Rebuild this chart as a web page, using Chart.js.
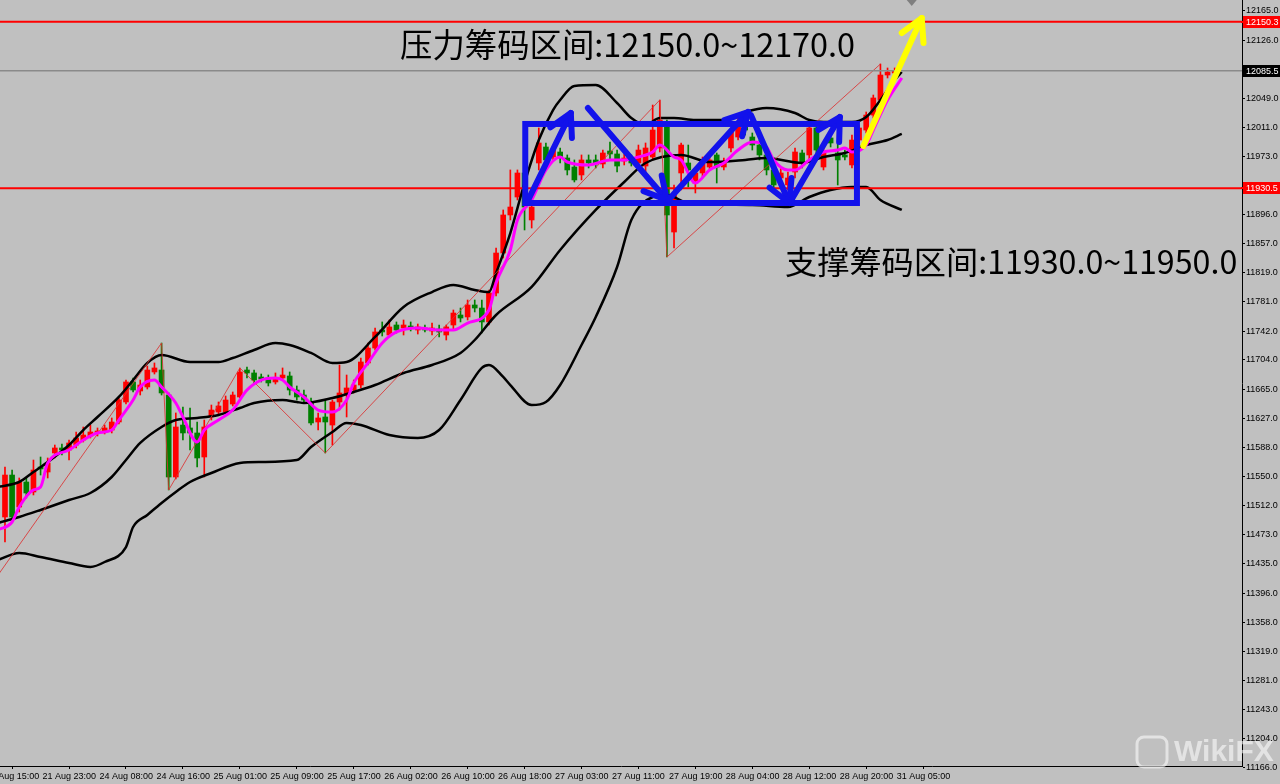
<!DOCTYPE html>
<html><head><meta charset="utf-8">
<script src="https://cdn.jsdelivr.net/npm/chart.js@4.4.1/dist/chart.umd.min.js"></script>
<style>html,body{margin:0;padding:0;background:#c0c0c0;overflow:hidden}canvas{display:block}</style>
</head><body>
<canvas id="c" width="1280" height="784"></canvas>
<script>
// ---------- DATA (H1 candles, bar index 0 = 21 Aug 18:00) ----------
const openP = [
11496.6,11552.0,11509.8,11542.8,11529.6,11562.6,11556.0,11581.1,11587.7,11585.0,
11591.6,11598.2,11603.5,11607.5,11608.8,11611.4,11622.0,11648.4,11674.8,11662.9,
11668.2,11688.0,11690.6,11657.6,11549.4,11618.0,11614.1,11607.5,11575.8,11628.6,
11635.2,11635.2,11645.7,11655.0,11690.6,11686.7,11681.4,11680.1,11674.8,11680.1,
11682.7,11664.2,11657.6,11648.4,11622.0,11628.6,11618.0,11648.4,11657.6,11664.2,
11670.8,11699.9,11719.6,11743.4,11736.8,11750.0,11746.0,11748.7,11743.4,11746.0,
11742.1,11744.7,11736.8,11750.0,11763.2,11760.6,11776.4,11772.4,11754.0,11792.2,
11845.0,11895.2,11918.9,11950.6,11888.6,11963.8,11984.9,11971.7,11978.3,11970.4,
11958.5,11948.0,11967.8,11967.8,11962.5,11979.6,11975.7,11966.4,11967.8,11963.8,
11959.8,11971.7,11983.6,12011.3,11872.7,11950.6,11963.8,11937.4,11950.6,11958.5,
11974.4,11958.5,11983.6,11998.1,12011.3,11998.1,11987.5,11974.4,11954.6,11944.0,
11934.8,11951.9,11977.0,11974.4,12010.0,11958.5,11996.8,11977.0,11974.4,11961.2,
11994.1,12007.3,12027.1,12046.9,12079.9,12082.6];
const highP = [
11562.6,11558.6,11548.1,11548.1,11571.8,11575.8,11574.5,11591.6,11593.0,11598.2,
11608.8,11615.4,11618.0,11614.1,11618.0,11627.3,11653.7,11677.4,11680.1,11677.4,
11695.9,11699.9,11726.2,11660.3,11633.9,11641.8,11640.5,11622.0,11624.6,11644.4,
11648.4,11656.3,11661.6,11693.3,11694.6,11690.6,11685.3,11684.0,11686.7,11693.3,
11688.0,11669.5,11664.2,11653.7,11633.9,11651.0,11651.0,11697.2,11684.0,11677.4,
11706.4,11726.2,11746.0,11754.0,11756.6,11754.0,11756.6,11754.0,11751.3,11750.0,
11752.6,11750.0,11750.0,11769.8,11772.4,11783.0,11783.0,11783.0,11796.2,11851.6,
11901.8,11954.6,11954.6,11971.7,11915.0,12010.0,11990.2,11986.2,11983.6,11974.4,
11967.8,11974.4,11974.4,11974.4,11980.9,11991.5,11980.9,11975.7,11974.4,11987.5,
11990.2,12040.3,12046.9,12020.5,11934.8,11990.2,11987.5,11954.6,11971.7,11974.4,
11977.0,11970.4,12010.0,12023.2,12017.9,12003.4,11994.1,11980.9,11961.2,11957.2,
11951.9,11983.6,11980.9,12013.9,12013.9,11983.6,12003.4,11990.2,11980.9,12000.7,
12013.9,12031.1,12053.5,12094.4,12089.2,12089.2];
const lowP = [
11463.6,11492.7,11503.2,11521.7,11525.7,11552.0,11548.1,11574.5,11578.4,11571.8,
11587.7,11595.6,11600.9,11603.5,11606.2,11607.5,11619.4,11645.7,11661.6,11657.6,
11665.5,11685.3,11657.6,11532.3,11546.8,11598.2,11585.0,11562.6,11549.4,11624.6,
11631.2,11632.5,11643.1,11653.7,11680.1,11673.5,11674.8,11669.5,11672.1,11677.4,
11657.6,11651.0,11647.1,11618.0,11611.4,11581.1,11591.6,11637.8,11628.6,11660.3,
11666.9,11697.2,11717.0,11735.5,11734.2,11739.4,11736.8,11742.1,11738.1,11740.8,
11736.8,11734.2,11730.2,11743.4,11754.0,11756.6,11767.2,11739.4,11750.0,11788.3,
11838.4,11888.6,11915.0,11875.4,11878.0,11954.6,11961.2,11967.8,11963.8,11948.0,
11938.7,11941.4,11957.2,11957.2,11957.2,11967.8,11951.9,11961.2,11959.8,11958.5,
11944.0,11967.8,11978.3,11839.7,11851.6,11928.2,11932.1,11924.2,11944.0,11954.6,
11937.4,11954.6,11978.3,11994.1,12000.7,11980.9,11967.8,11948.0,11928.2,11937.4,
11928.2,11944.0,11957.2,11967.8,11974.4,11954.6,11984.9,11934.8,11967.8,11957.2,
11987.5,12003.4,12023.2,12044.3,12076.0,12078.6];
const closeP = [
11552.0,11496.6,11542.8,11528.3,11558.6,11560.0,11567.9,11587.7,11585.0,11594.3,
11600.9,11604.8,11608.8,11610.1,11614.1,11622.0,11651.0,11674.8,11664.2,11670.8,
11690.6,11693.3,11660.3,11549.4,11615.4,11607.5,11607.5,11574.5,11615.4,11637.8,
11643.1,11651.0,11657.6,11688.0,11686.7,11677.4,11678.7,11673.5,11680.1,11684.0,
11664.2,11655.0,11651.0,11620.7,11627.3,11622.0,11648.4,11660.3,11666.9,11670.8,
11701.2,11719.6,11740.8,11740.8,11747.4,11743.4,11750.0,11746.0,11747.4,11743.4,
11746.0,11740.8,11747.4,11765.8,11759.2,11776.4,11772.4,11754.0,11792.2,11845.0,
11895.2,11905.7,11950.6,11905.7,11905.7,11990.2,11967.8,11980.9,11970.4,11954.6,
11941.4,11967.8,11963.8,11962.5,11977.0,11975.7,11959.8,11970.4,11963.8,11980.9,
11983.6,12007.3,12020.5,11895.2,11921.6,11987.5,11954.6,11950.6,11967.8,11967.8,
11958.5,11963.8,12004.7,12016.6,12007.3,11987.5,11974.4,11954.6,11934.8,11950.6,
11944.0,11978.3,11963.8,12010.0,11980.9,11978.3,11990.2,11967.8,11971.7,11994.1,
12010.0,12027.1,12049.6,12079.9,12083.9,12085.5];

const upperIdx = [-1,2,4,6,9,11,13,16,18,20,22,26,30,32,35,38,40,43,46,48,52,56,60,63,66,68,69,71,73,75,77,78,80,83,86,88,90,92,94,97,101,104,107,111,113,115,119,121,123,125,126];
const upperVal = [11536.2,11542.8,11556.0,11569.2,11591.6,11611.4,11628.6,11655.0,11677.4,11699.9,11710.4,11701.2,11701.2,11706.4,11717.0,11726.2,11723.6,11713.1,11699.9,11701.2,11734.2,11773.8,11793.5,11802.8,11796.2,11793.5,11818.6,11871.4,11937.4,11994.1,12033.7,12046.9,12065.4,12066.7,12043.0,12023.2,12013.9,12023.2,12023.2,12020.5,12020.5,12031.1,12036.4,12029.8,12020.5,12017.9,12017.9,12024.5,12046.9,12073.3,12083.9];
const midIdx = [-1,2,5,9,12,15,17,19,22,24,27,30,33,35,39,41,42,46,49,52,56,60,64,66,69,74,78,83,87,90,95,99,104,107,112,115,118,121,124,126];
const midVal = [11488.7,11496.6,11505.9,11519.0,11528.3,11549.4,11571.8,11594.3,11615.4,11624.6,11627.3,11631.2,11640.5,11647.1,11651.0,11648.4,11647.1,11653.7,11661.6,11670.8,11686.7,11697.2,11713.1,11730.2,11763.2,11800.2,11849.0,11901.8,11938.7,11963.8,11974.4,11965.1,11967.8,11970.4,11963.8,11971.7,11977.0,11987.5,11994.1,12002.1];
const lowerIdx = [-1,2,5,9,12,14,17,18,20,22,24,26,29,33,36,41,43,46,48,50,54,58,61,64,67,68,70,71,74,76,78,81,83,86,88,91,93,96,105,110,113,116,119,121,123,126];
const lowerVal = [11439.9,11449.1,11443.8,11435.9,11430.6,11437.2,11457.0,11483.4,11499.3,11515.1,11529.6,11542.8,11554.7,11567.9,11569.2,11571.8,11589.0,11608.8,11620.7,11618.0,11604.8,11600.9,11611.4,11651.0,11693.3,11697.2,11681.4,11670.8,11644.4,11648.4,11670.8,11723.6,11760.6,11826.5,11888.6,11918.9,11921.6,11911.0,11908.4,11905.7,11918.9,11928.2,11932.1,11932.1,11915.0,11901.8];
// fast moving average (magenta)
const maIdx = [-1,1,2,4,5,6,9,11,13,15,16,18,19,21,22,24,25,27,28,30,32,34,36,38,39,40,42,44,46,48,49,51,53,55,58,61,63,65,68,69,71,72,74,76,78,79,82,85,87,89,91,92,94,95,97,99,101,103,105,107,108,110,111,113,115,117,118,119,121,122,124,126];
const maVal = [11479.5,11490.0,11509.8,11532.3,11536.2,11567.9,11585.0,11598.2,11607.5,11611.4,11624.6,11651.0,11668.2,11677.4,11668.2,11647.1,11628.6,11595.6,11611.4,11624.6,11637.8,11664.2,11677.4,11680.1,11677.4,11668.2,11655.0,11637.8,11635.2,11651.0,11673.5,11699.9,11726.2,11740.8,11746.0,11743.4,11743.4,11752.6,11769.8,11805.4,11849.0,11888.6,11915.0,11954.6,11971.7,11965.1,11961.2,11967.8,11967.8,11971.7,11978.3,11987.5,11971.7,11967.8,11937.4,11954.6,11963.8,11980.9,11991.5,11984.9,11967.8,11954.6,11954.6,11967.8,11978.3,11980.9,11983.6,11978.3,11987.5,12007.3,12046.9,12076.0];
// ZigZag
const zigIdx = [-3,22,23,33,45,92,93,123];
const zigVal = [11393.0,11726.2,11532.3,11693.3,11581.1,12046.9,11839.7,12094.4];

// axis labels
const xTickIdx = [-3,5,13,21,29,37,45,53,61,69,77,85,93,101,109,117,125];
const xTickLabels = ['21 Aug 15:00','21 Aug 23:00','24 Aug 08:00','24 Aug 16:00','25 Aug 01:00','25 Aug 09:00','25 Aug 17:00','26 Aug 02:00','26 Aug 10:00','26 Aug 18:00','27 Aug 03:00','27 Aug 11:00','27 Aug 19:00','28 Aug 04:00','28 Aug 12:00','28 Aug 20:00','31 Aug 05:00'];
const yTickVals = [12165,12126,12049,12011,11973,11896,11857,11819,11781,11742,11704,11665,11627,11588,11550,11512,11473,11435,11396,11358,11319,11281,11243,11204,11166];

// price levels
const resistLevel = 12150.3;
const supportLevel = 11930.5;
const lastPrice = 12085.5;

// annotations (bar index / price)
const boxLeftIdx = 73.1, boxRightIdx = 119.7, boxTopP = 12015.3, boxBotP = 11911.0;
const blueArrowFromIdx = [73.3, 81.9, 93.2, 104.8, 110.4];
const blueArrowFromP   = [11911.0, 12036.4, 11915.0, 12027.1, 11913.6];
const blueArrowToIdx   = [79.5, 93.0, 104.4, 110.2, 117.3];
const blueArrowToP     = [12029.8, 11915.0, 12031.1, 11911.0, 12024.5];
const yellowArrowIdx = [120.6, 128.8];
const yellowArrowP = [11986.2, 12155.1];
const noteTexts = ['压力筹码区间:12150.0~12170.0', '支撑筹码区间:11930.0~11950.0'];
const noteIdx = [55.5, 109.6];
const noteP = [12119.5, 11833.1];
const noteWidthPx = [455, 453];

// ---------- CHART ----------
const RED = '#ff0000', GREEN = '#008000';
const idx = openP.map((_, i) => i);
const colorOf = c => (closeP[c.dataIndex] >= openP[c.dataIndex] ? RED : GREEN);
const pts = (xs, ys) => xs.map((x, k) => ({x: x, y: ys[k]}));
const FONT = 'Liberation Sans';

function arrow(ctx, x1, y1, x2, y2, color, w, head) {
  ctx.save();
  ctx.strokeStyle = color; ctx.lineWidth = w; ctx.lineCap = 'round'; ctx.lineJoin = 'round';
  ctx.beginPath(); ctx.moveTo(x1, y1); ctx.lineTo(x2, y2); ctx.stroke();
  const a = Math.atan2(y2 - y1, x2 - x1), s = 0.5;
  ctx.beginPath();
  ctx.moveTo(x2 - head * Math.cos(a - s), y2 - head * Math.sin(a - s));
  ctx.lineTo(x2, y2);
  ctx.lineTo(x2 - head * Math.cos(a + s), y2 - head * Math.sin(a + s));
  ctx.stroke();
  ctx.restore();
}

const overlay = {
  id: 'overlay',
  afterDatasetsDraw(chart) {
    const {ctx, chartArea: a, scales: {x, y}} = chart;
    ctx.save();
    ctx.beginPath(); ctx.rect(a.left, a.top, a.right - a.left, a.bottom - a.top); ctx.clip();
    // current price line
    let py = y.getPixelForValue(lastPrice);
    ctx.strokeStyle = '#8a8a8a'; ctx.lineWidth = 1.5;
    ctx.beginPath(); ctx.moveTo(a.left, py); ctx.lineTo(a.right, py); ctx.stroke();
    // red level lines
    ctx.strokeStyle = '#ff0000'; ctx.lineWidth = 2;
    [resistLevel, supportLevel].forEach(v => {
      const yy = y.getPixelForValue(v);
      ctx.beginPath(); ctx.moveTo(a.left, yy); ctx.lineTo(a.right, yy); ctx.stroke();
    });
    // blue box
    const bx1 = x.getPixelForValue(boxLeftIdx), bx2 = x.getPixelForValue(boxRightIdx);
    const by1 = y.getPixelForValue(boxTopP), by2 = y.getPixelForValue(boxBotP);
    ctx.strokeStyle = 'rgb(18,18,235)'; ctx.lineWidth = 6;
    ctx.strokeRect(bx1, by1, bx2 - bx1, by2 - by1);
    // blue arrows
    for (let k = 0; k < blueArrowFromIdx.length; k++) {
      arrow(ctx, x.getPixelForValue(blueArrowFromIdx[k]), y.getPixelForValue(blueArrowFromP[k]),
        x.getPixelForValue(blueArrowToIdx[k]), y.getPixelForValue(blueArrowToP[k]), 'rgb(18,18,235)', 6, 25);
    }
    // yellow arrow
    arrow(ctx, x.getPixelForValue(yellowArrowIdx[0]), y.getPixelForValue(yellowArrowP[0]),
      x.getPixelForValue(yellowArrowIdx[1]), y.getPixelForValue(yellowArrowP[1]), '#ffff00', 6, 25);
    // texts (font size fitted to the width they take in the reference)
    ctx.fillStyle = '#000'; ctx.textBaseline = 'middle'; ctx.textAlign = 'left';
    noteTexts.forEach((t, k) => {
      ctx.font = '100px "Noto Sans CJK SC"';
      const w100 = ctx.measureText(t).width;
      const size = Math.min(40, 100 * noteWidthPx[k] / w100);
      ctx.font = size.toFixed(1) + 'px "Noto Sans CJK SC"';
      ctx.fillText(t, x.getPixelForValue(noteIdx[k]), y.getPixelForValue(noteP[k]));
    });
    // chart-shift marker
    const sx = x.getPixelForValue(127.4);
    ctx.fillStyle = '#7f7f7f';
    ctx.beginPath(); ctx.moveTo(sx - 5, a.top); ctx.lineTo(sx + 5, a.top); ctx.lineTo(sx, a.top + 6); ctx.closePath(); ctx.fill();
    ctx.restore();
  },
  afterDraw(chart) {
    const {ctx, chartArea: a, scales: {y}} = chart;
    ctx.save();
    ctx.font = '9px "' + FONT + '"'; ctx.textBaseline = 'middle'; ctx.textAlign = 'left';
    [[resistLevel, '#ff0000'], [lastPrice, '#000000'], [supportLevel, '#ff0000']].forEach(([v, col]) => {
      const yy = Math.round(y.getPixelForValue(v));
      ctx.fillStyle = col;
      ctx.fillRect(a.right + 1, yy - 6, 40, 12);
      if (col !== '#000000') { ctx.fillRect(a.right - 1, yy - 1, 3, 2); }
      ctx.fillStyle = '#ffffff';
      ctx.fillText(v.toFixed(1), a.right + 4, yy + 0.5);
    });
    // watermark
    ctx.globalAlpha = 0.55;
    ctx.strokeStyle = '#ffffff'; ctx.lineWidth = 3;
    ctx.beginPath();
    if (ctx.roundRect) ctx.roundRect(1137, 737, 30, 30, 7); else ctx.rect(1137, 737, 30, 30);
    ctx.stroke();
    ctx.fillStyle = '#ffffff';
    ctx.font = 'bold 30px "Liberation Sans"'; ctx.textBaseline = 'middle';
    ctx.fillText('WikiFX', 1174, 753);
    ctx.restore();
  }
};

new Chart(document.getElementById('c'), {
  type: 'bar',
  data: {
    datasets: [
      {type: 'bar', label: 'wick', data: idx.map(i => ({x: i, y: [lowP[i], highP[i]]})), backgroundColor: colorOf, barThickness: 1, grouped: false, minBarLength: 1, order: 10},
      {type: 'bar', label: 'body', data: idx.map(i => ({x: i, y: [openP[i], closeP[i]]})), backgroundColor: colorOf, barThickness: 5, grouped: false, minBarLength: 1, order: 9},
      {type: 'line', label: 'upper', data: pts(upperIdx, upperVal), borderColor: '#000', borderWidth: 2.5, pointRadius: 0, cubicInterpolationMode: 'monotone', order: 6},
      {type: 'line', label: 'middle', data: pts(midIdx, midVal), borderColor: '#000', borderWidth: 2.5, pointRadius: 0, cubicInterpolationMode: 'monotone', order: 6},
      {type: 'line', label: 'lower', data: pts(lowerIdx, lowerVal), borderColor: '#000', borderWidth: 2.5, pointRadius: 0, cubicInterpolationMode: 'monotone', order: 6},
      {type: 'line', label: 'zigzag', data: pts(zigIdx, zigVal), borderColor: 'rgba(220,50,50,0.85)', borderWidth: 1, pointRadius: 0, tension: 0, order: 5},
      {type: 'line', label: 'ma', data: pts(maIdx, maVal), borderColor: '#ff00ff', borderWidth: 3, pointRadius: 0, cubicInterpolationMode: 'monotone', order: 4}
    ]
  },
  options: {
    responsive: false, animation: false, devicePixelRatio: 1,
    layout: {padding: 0},
    plugins: {legend: {display: false}, tooltip: {enabled: false}},
    scales: {
      x: {
        type: 'linear', min: -0.7, max: 173.8, offset: false,
        afterBuildTicks: s => { s.ticks = xTickIdx.map(v => ({value: v})); },
        afterFit: s => { s.height = 18; s.paddingLeft = 0; s.paddingRight = 0; },
        grid: {drawOnChartArea: false, drawTicks: true, tickLength: 3, color: '#000'},
        border: {display: true, color: '#000', width: 1},
        ticks: {autoSkip: false, maxRotation: 0, minRotation: 0, align: 'start', labelOffset: 2, padding: 2,
          color: '#000', font: {family: FONT, size: 9}, callback: (v, i) => xTickLabels[i]}
      },
      y: {
        type: 'linear', position: 'right', min: 11168.0, max: 12178.9,
        afterBuildTicks: s => { s.ticks = yTickVals.map(v => ({value: v})); },
        afterFit: s => { s.width = 38; s.paddingTop = 0; s.paddingBottom = 0; },
        grid: {drawOnChartArea: false, drawTicks: true, tickLength: 3, color: '#000'},
        border: {display: true, color: '#000', width: 1},
        ticks: {autoSkip: false, padding: 1, color: '#000', font: {family: FONT, size: 9},
          callback: v => Number(v).toFixed(1)}
      }
    }
  },
  plugins: [overlay]
});
</script>
</body></html>
